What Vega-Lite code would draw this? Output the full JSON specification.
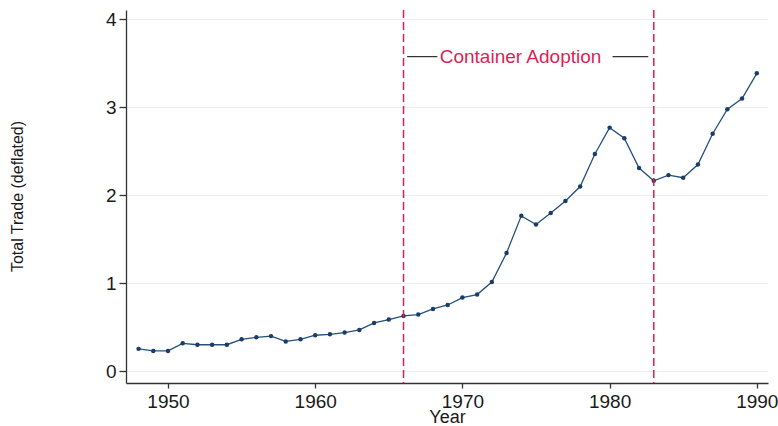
{
  "$schema": "https://vega.github.io/schema/vega-lite/v6.json",
  "autosize": "none",
  "width": 642,
  "height": 373,
  "padding": {"left": 126, "top": 10, "right": 10, "bottom": 43},
  "background": "white",
  "config": {
    "view": {"stroke": null},
    "font": "Liberation Sans"
  },
  "datasets": {
    "trade": [
      {"year": 1948, "trade": 0.255},
      {"year": 1949, "trade": 0.232},
      {"year": 1950, "trade": 0.232},
      {"year": 1951, "trade": 0.318},
      {"year": 1952, "trade": 0.302},
      {"year": 1953, "trade": 0.302},
      {"year": 1954, "trade": 0.302},
      {"year": 1955, "trade": 0.364},
      {"year": 1956, "trade": 0.386},
      {"year": 1957, "trade": 0.40},
      {"year": 1958, "trade": 0.34},
      {"year": 1959, "trade": 0.364},
      {"year": 1960, "trade": 0.41},
      {"year": 1961, "trade": 0.42},
      {"year": 1962, "trade": 0.44},
      {"year": 1963, "trade": 0.47},
      {"year": 1964, "trade": 0.55},
      {"year": 1965, "trade": 0.588},
      {"year": 1966, "trade": 0.629},
      {"year": 1967, "trade": 0.645},
      {"year": 1968, "trade": 0.709},
      {"year": 1969, "trade": 0.754},
      {"year": 1970, "trade": 0.838},
      {"year": 1971, "trade": 0.872},
      {"year": 1972, "trade": 1.015},
      {"year": 1973, "trade": 1.345},
      {"year": 1974, "trade": 1.767},
      {"year": 1975, "trade": 1.668},
      {"year": 1976, "trade": 1.80},
      {"year": 1977, "trade": 1.935},
      {"year": 1978, "trade": 2.10},
      {"year": 1979, "trade": 2.47},
      {"year": 1980, "trade": 2.77},
      {"year": 1981, "trade": 2.65},
      {"year": 1982, "trade": 2.31},
      {"year": 1983, "trade": 2.165},
      {"year": 1984, "trade": 2.23},
      {"year": 1985, "trade": 2.20},
      {"year": 1986, "trade": 2.35},
      {"year": 1987, "trade": 2.70},
      {"year": 1988, "trade": 2.98},
      {"year": 1989, "trade": 3.10},
      {"year": 1990, "trade": 3.387}
    ],
    "events": [{"year": 1966}, {"year": 1983}],
    "label": [{"year": 1973.95, "trade": 3.57, "text": "Container Adoption"}],
    "segments": [
      {"x": 1966.24, "x2": 1968.3, "y": 3.577},
      {"x": 1980.2, "x2": 1982.63, "y": 3.577}
    ]
  },
  "layer": [
    {
      "data": {"name": "trade"},
      "mark": {"type": "line", "color": "#25507e", "strokeWidth": 1.3},
      "encoding": {
        "x": {
          "field": "year", "type": "quantitative",
          "scale": {"domain": [1947.147, 1990.76], "nice": false, "zero": false},
          "axis": {
            "values": [1950, 1960, 1970, 1980, 1990], "format": "d",
            "title": "Year", "grid": false,
            "domainColor": "#333333", "domainWidth": 1.3,
            "tickColor": "#333333", "tickWidth": 1.3, "tickSize": 5,
            "labelPadding": 4, "labelFontSize": 19, "labelColor": "#1a1a1a",
            "labelFont": "Liberation Sans",
            "titleFontSize": 18, "titleFontWeight": "normal", "titleColor": "#1a1a1a",
            "titleFont": "Liberation Sans",
            "titleY": 25, "titleBaseline": "top"
          }
        },
        "y": {
          "field": "trade", "type": "quantitative",
          "scale": {"domain": [-0.133, 4.107], "nice": false, "zero": false},
          "axis": {
            "values": [0, 1, 2, 3, 4], "format": "d",
            "title": "Total Trade (deflated)",
            "grid": true, "gridColor": "#eeeeee", "gridWidth": 1,
            "domainColor": "#333333", "domainWidth": 1.3,
            "tickColor": "#333333", "tickWidth": 1.3, "tickSize": 7,
            "labelPadding": 3, "labelFontSize": 19, "labelColor": "#1a1a1a",
            "labelFont": "Liberation Sans",
            "titleFontSize": 16, "titleFontWeight": "normal", "titleColor": "#1a1a1a",
            "titleFont": "Liberation Sans",
            "titleX": -101, "titleY": 186, "titleAngle": -90,
            "titleAlign": "center", "titleBaseline": "bottom"
          }
        }
      }
    },
    {
      "data": {"name": "trade"},
      "mark": {"type": "point", "filled": true, "shape": "circle", "size": 20, "color": "#1a3d66", "opacity": 1},
      "encoding": {
        "x": {"field": "year", "type": "quantitative"},
        "y": {"field": "trade", "type": "quantitative"}
      }
    },
    {
      "data": {"name": "events"},
      "mark": {"type": "rule", "color": "#dc1f55", "strokeWidth": 1.5, "strokeDash": [8, 4]},
      "encoding": {
        "x": {"field": "year", "type": "quantitative"}
      }
    },
    {
      "data": {"name": "segments"},
      "mark": {"type": "rule", "color": "#333333", "strokeWidth": 1.2},
      "encoding": {
        "x": {"field": "x", "type": "quantitative"},
        "x2": {"field": "x2"},
        "y": {"field": "y", "type": "quantitative"}
      }
    },
    {
      "data": {"name": "label"},
      "mark": {"type": "text", "color": "#dc1f55", "fontSize": 19, "font": "Liberation Sans", "align": "center", "baseline": "middle"},
      "encoding": {
        "x": {"field": "year", "type": "quantitative"},
        "y": {"field": "trade", "type": "quantitative"},
        "text": {"field": "text"}
      }
    }
  ]
}
